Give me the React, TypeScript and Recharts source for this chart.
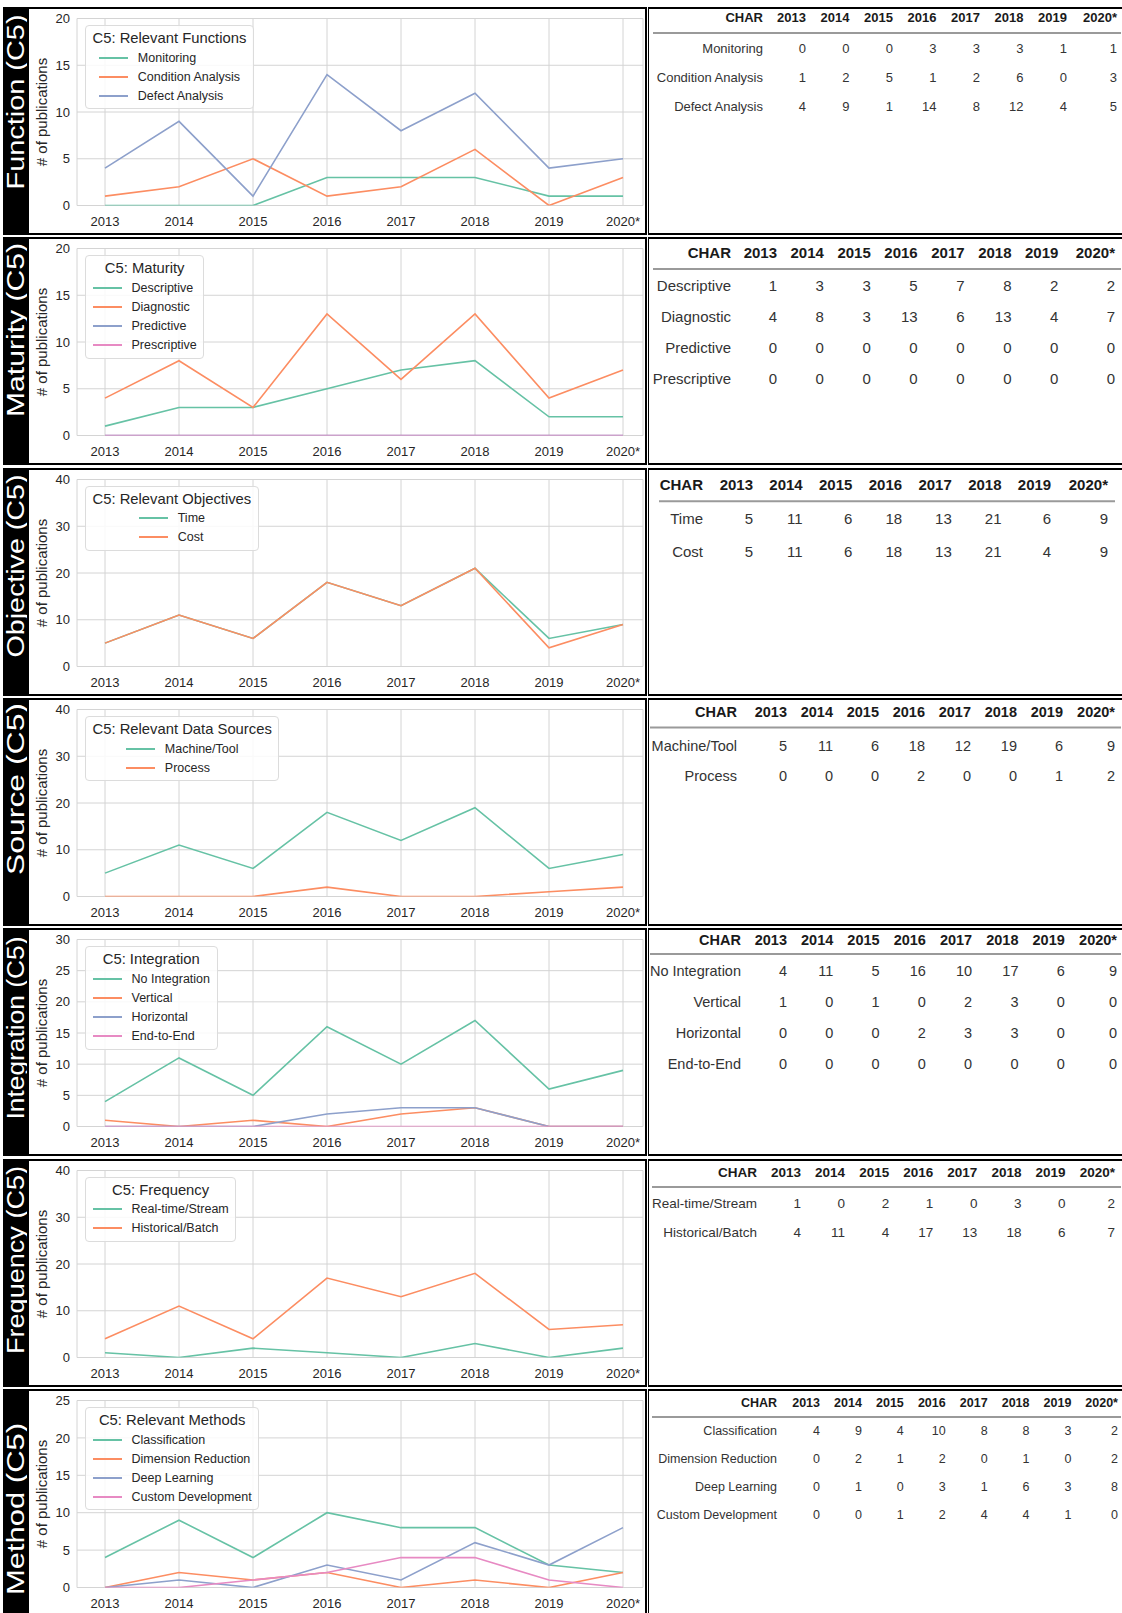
import React from "react";
import { LineChart, Line, XAxis, YAxis, CartesianGrid, Legend } from "recharts";

const FONT = '"Liberation Sans", Arial, Helvetica, sans-serif';
const COLORS = ["#66c2a5", "#fc8d62", "#8da0cb", "#e78ac3"];

const years = ["2013", "2014", "2015", "2016", "2017", "2018", "2019", "2020*"];

// Function (C5)
const functionNames = ["Monitoring", "Condition Analysis", "Defect Analysis"];
const monitoring = [0, 0, 0, 3, 3, 3, 1, 1];
const conditionAnalysis = [1, 2, 5, 1, 2, 6, 0, 3];
const defectAnalysis = [4, 9, 1, 14, 8, 12, 4, 5];
const functionTicks = [0, 5, 10, 15, 20];

// Maturity (C5)
const maturityNames = ["Descriptive", "Diagnostic", "Predictive", "Prescriptive"];
const descriptive = [1, 3, 3, 5, 7, 8, 2, 2];
const diagnostic = [4, 8, 3, 13, 6, 13, 4, 7];
const predictive = [0, 0, 0, 0, 0, 0, 0, 0];
const prescriptive = [0, 0, 0, 0, 0, 0, 0, 0];
const maturityTicks = [0, 5, 10, 15, 20];

// Objective (C5)
const objectiveNames = ["Time", "Cost"];
const time = [5, 11, 6, 18, 13, 21, 6, 9];
const cost = [5, 11, 6, 18, 13, 21, 4, 9];
const objectiveTicks = [0, 10, 20, 30, 40];

// Source (C5)
const sourceNames = ["Machine/Tool", "Process"];
const machineTool = [5, 11, 6, 18, 12, 19, 6, 9];
const processSrc = [0, 0, 0, 2, 0, 0, 1, 2];
const sourceTicks = [0, 10, 20, 30, 40];

// Integration (C5)
const integrationNames = ["No Integration", "Vertical", "Horizontal", "End-to-End"];
const noIntegration = [4, 11, 5, 16, 10, 17, 6, 9];
const vertical = [1, 0, 1, 0, 2, 3, 0, 0];
const horizontal = [0, 0, 0, 2, 3, 3, 0, 0];
const endToEnd = [0, 0, 0, 0, 0, 0, 0, 0];
const integrationTicks = [0, 5, 10, 15, 20, 25, 30];

// Frequency (C5)
const frequencyNames = ["Real-time/Stream", "Historical/Batch"];
const realTime = [1, 0, 2, 1, 0, 3, 0, 2];
const historical = [4, 11, 4, 17, 13, 18, 6, 7];
const frequencyTicks = [0, 10, 20, 30, 40];

// Method (C5)
const methodNames = ["Classification", "Dimension Reduction", "Deep Learning", "Custom Development"];
const classification = [4, 9, 4, 10, 8, 8, 3, 2];
const dimensionReduction = [0, 2, 1, 2, 0, 1, 0, 2];
const deepLearning = [0, 1, 0, 3, 1, 6, 3, 8];
const customDevelopment = [0, 0, 1, 2, 4, 4, 1, 0];
const methodTicks = [0, 5, 10, 15, 20, 25];

const panels = [
  { strip: "Function (C5)", title: "C5: Relevant Functions", names: functionNames, series: [monitoring, conditionAnalysis, defectAnalysis], ticks: functionTicks },
  { strip: "Maturity (C5)", title: "C5: Maturity", names: maturityNames, series: [descriptive, diagnostic, predictive, prescriptive], ticks: maturityTicks },
  { strip: "Objective (C5)", title: "C5: Relevant Objectives", names: objectiveNames, series: [time, cost], ticks: objectiveTicks },
  { strip: "Source (C5)", title: "C5: Relevant Data Sources", names: sourceNames, series: [machineTool, processSrc], ticks: sourceTicks },
  { strip: "Integration (C5)", title: "C5: Integration", names: integrationNames, series: [noIntegration, vertical, horizontal, endToEnd], ticks: integrationTicks },
  { strip: "Frequency (C5)", title: "C5: Frequency", names: frequencyNames, series: [realTime, historical], ticks: frequencyTicks },
  { strip: "Method (C5)", title: "C5: Relevant Methods", names: methodNames, series: [classification, dimensionReduction, deepLearning, customDevelopment], ticks: methodTicks },
];

// side label placement (centre y relative to row top, text length)
const stripLayouts = [
  { cy: 95, len: 175 },
  { cy: 93, len: 174 },
  { cy: 98, len: 183 },
  { cy: 91, len: 172 },
  { cy: 100, len: 183 },
  { cy: 101, len: 188 },
  { cy: 120, len: 172 },
];

// layout of the pasted tables (page x, y relative to row top)
const tableLayouts = [
  { fs: 13, head: 10.5, rule: 26, row0: 41.5, pitch: 29, ruleX: 653, labelRight: 763, col0: 806, colStep: 43.5, colLast: 1117 },
  { fs: 15, head: 15, rule: 32, row0: 48.5, pitch: 31, ruleX: 653, labelRight: 731, col0: 777, colStep: 46.9, colLast: 1115 },
  { fs: 15, head: 16.5, rule: 33.3, row0: 50.7, pitch: 33, ruleX: 659, ruleEnd: 1115, labelRight: 703, col0: 753, colStep: 49.7, colLast: 1108 },
  { fs: 14.5, head: 13.5, rule: 29.5, row0: 47.7, pitch: 30.5, ruleX: 650, labelRight: 737, col0: 787, colStep: 46, colLast: 1115 },
  { fs: 14.5, head: 11.5, rule: 26, row0: 43.2, pitch: 30.8, ruleX: 650, labelRight: 741, col0: 787, colStep: 46.3, colLast: 1117 },
  { fs: 13.5, head: 13.5, rule: 28, row0: 44.5, pitch: 29, ruleX: 652, labelRight: 757, col0: 801, colStep: 44.1, colLast: 1115 },
  { fs: 12.5, head: 13.8, rule: 28, row0: 42.2, pitch: 27.8, ruleX: 652, labelRight: 777, col0: 820, colStep: 41.9, colLast: 1118 },
];

const rowTops = [7, 237.3, 467.7, 698, 928.3, 1158.7, 1389];
const ROW_H = 228;

function LegendBox({ title, names }: { title: string; names: string[] }) {
  return (
    <div
      style={{
        display: "inline-flex",
        flexDirection: "column",
        alignItems: "center",
        background: "rgba(255,255,255,0.85)",
        border: "1px solid #dcdcdc",
        borderRadius: 4,
        padding: "2px 6.5px 2.5px 6.5px",
        fontFamily: FONT,
        color: "#262626",
        whiteSpace: "nowrap",
      }}
    >
      <div style={{ fontSize: 14.8, lineHeight: "20px", height: 20 }}>{title}</div>
      <div>
        {names.map((n, i) => (
          <div key={n} style={{ display: "flex", alignItems: "center", height: 19.2, fontSize: 12.5 }}>
            <span style={{ display: "inline-block", width: 29, height: 2, background: COLORS[i], marginRight: 10 }} />
            <span>{n}</span>
          </div>
        ))}
      </div>
    </div>
  );
}

function DataTable({ names, series, L }: any) {
  const ox = 649;
  const oy = 2;
  const colX = years.map((_, i) => (i === years.length - 1 ? L.colLast : L.col0 + i * L.colStep));
  const common = { textAnchor: "end" as const, dominantBaseline: "central" as const, fontSize: L.fs };
  return (
    <svg width={472} height={224} style={{ position: "absolute", left: 0, top: 0 }} fontFamily={FONT}>
      <text x={L.labelRight - ox} y={L.head - oy} {...common} fontWeight="bold" fill="#1a1a1a">
        CHAR
      </text>
      {years.map((y, i) => (
        <text key={y} x={colX[i] - ox} y={L.head - oy} {...common} fontWeight="bold" fill="#1a1a1a">
          {y}
        </text>
      ))}
      <line x1={L.ruleX - ox} x2={(L.ruleEnd ?? 1125) - ox} y1={L.rule - oy} y2={L.rule - oy} stroke="#9a9a9a" strokeWidth={2} />
      {names.map((n: string, r: number) => (
        <g key={n}>
          <text x={L.labelRight - ox} y={L.row0 + r * L.pitch - oy} {...common} fill="#333">
            {n}
          </text>
          {series[r].map((v: number, i: number) => (
            <text key={i} x={colX[i] - ox} y={L.row0 + r * L.pitch - oy} {...common} fill="#333">
              {v}
            </text>
          ))}
        </g>
      ))}
    </svg>
  );
}

function Row({ p, L, S, top }: any) {
  const data = years.map((year, i) => {
    const d: any = { year };
    p.series.forEach((s: number[], k: number) => {
      d["s" + k] = s[i];
    });
    return d;
  });
  const yMax = p.ticks[p.ticks.length - 1];
  const tickStyle = { fill: "#262626", fontSize: 13, fontFamily: FONT };

  return (
    <div style={{ position: "absolute", left: 0, top, width: 1122, height: ROW_H }}>
      {/* black side label */}
      <div style={{ position: "absolute", left: 3, top: 0, width: 24, height: ROW_H, background: "#000", overflow: "hidden" }}>
        <svg width={24} height={ROW_H}>
          <text
            transform={`translate(20.5, ${S.cy}) rotate(-90)`}
            textAnchor="middle"
            textLength={S.len}
            lengthAdjust="spacingAndGlyphs"
            fill="#fff"
            fontSize={23}
            fontFamily={FONT}
          >
            {p.strip}
          </text>
        </svg>
      </div>

      {/* chart panel */}
      <div
        style={{
          position: "absolute",
          left: 27,
          top: 0,
          width: 620,
          height: ROW_H,
          boxSizing: "border-box",
          border: "2px solid #000",
          background: "#fff",
        }}
      >
        <LineChart width={616} height={224} data={data} margin={{ top: 9.5, right: 2, bottom: 6.5, left: 0 }}>
          <CartesianGrid stroke="#d4d4d4" strokeWidth={1} />
          <XAxis
            dataKey="year"
            height={21}
            padding={{ left: 28, right: 20 }}
            axisLine={false}
            tickLine={false}
            tickSize={0}
            tickMargin={11}
            interval={0}
            tick={tickStyle}
          />
          <YAxis
            width={48}
            type="number"
            domain={[0, yMax]}
            ticks={p.ticks}
            interval={0}
            allowDataOverflow
            axisLine={false}
            tickLine={false}
            tickSize={0}
            tickMargin={7}
            tick={tickStyle}
            label={(props: any) => {
              const vb = props.viewBox || { x: 0, y: 9.5, height: 187 };
              const cy = vb.y + vb.height / 2;
              return (
                <text
                  transform={`translate(${vb.x + 18}, ${cy}) rotate(-90)`}
                  textAnchor="middle"
                  fontSize={15}
                  fontFamily={FONT}
                  fill="#262626"
                >
                  # of publications
                </text>
              );
            }}
          />
          <Legend
            layout="horizontal"
            verticalAlign="middle"
            align="center"
            wrapperStyle={{ left: 56, top: 16, width: "auto", height: "auto" }}
            content={() => <LegendBox title={p.title} names={p.names} />}
          />
          {p.names.map((n: string, k: number) => (
            <Line
              key={n}
              type="linear"
              dataKey={"s" + k}
              name={n}
              stroke={COLORS[k]}
              strokeWidth={1.6}
              dot={false}
              activeDot={false}
              isAnimationActive={false}
            />
          ))}
        </LineChart>
      </div>

      {/* table panel */}
      <div
        style={{
          position: "absolute",
          left: 648,
          top: 0,
          width: 478,
          height: ROW_H,
          boxSizing: "border-box",
          borderTop: "2px solid #000",
          borderBottom: "2px solid #000",
          borderLeft: "1px solid #000",
          borderRight: "2px solid #000",
          background: "#fff",
        }}
      >
        <DataTable names={p.names} series={p.series} L={L} />
      </div>
    </div>
  );
}

export default function App() {
  return (
    <div style={{ position: "relative", width: 1122, height: 1613, overflow: "hidden", background: "#fff", fontFamily: FONT }}>
      <style>{"body{margin:0}"}</style>
      {panels.map((p, i) => (
        <Row key={p.strip} p={p} L={tableLayouts[i]} S={stripLayouts[i]} top={rowTops[i]} />
      ))}
    </div>
  );
}
